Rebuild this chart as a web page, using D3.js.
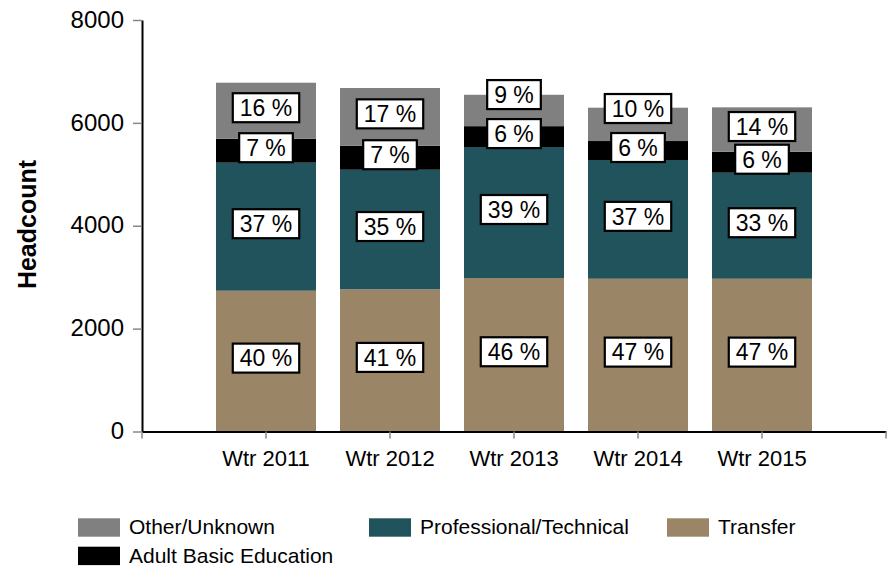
<!DOCTYPE html>
<html>
<head>
<meta charset="utf-8">
<script src="https://cdn.jsdelivr.net/npm/d3@7"></script>
<style>
  html, body { margin: 0; padding: 0; background: #fff; }
  svg { display: block; font-family: Arial, "Liberation Sans", sans-serif; }
</style>
</head>
<body>
<svg id="chart" width="892" height="570"></svg>
<script>
// ---- Data ----
const categories = ["Wtr 2011", "Wtr 2012", "Wtr 2013", "Wtr 2014", "Wtr 2015"];
const transfer     = [2737, 2764, 2984, 2970, 2970];
const professional = [2489, 2325, 2547, 2308, 2061];
const adultBasic   = [466, 467, 405, 369, 408];
const otherUnknown = [1089, 1122, 610, 648, 863];
const seriesNames  = ["Transfer", "Professional/Technical", "Adult Basic Education", "Other/Unknown"];
const seriesColors = ["#9b8567", "#21535c", "#000000", "#808080"];
const yTicks = [0, 2000, 4000, 6000, 8000];
const yTitle = "Headcount";

const seriesValues = [transfer, professional, adultBasic, otherUnknown];
const rows = categories.map((c, i) => {
  const r = { cat: c };
  seriesNames.forEach((s, k) => r[s] = seriesValues[k][i]);
  return r;
});
const stack = d3.stack().keys(seriesNames)(rows);

const svg = d3.select("#chart");
const x = d3.scaleBand().domain(categories).range([142, 886])
  .paddingInner(24 / 124).paddingOuter((1 + 24 / 124) / 2);
const y = d3.scaleLinear().domain([0, 8000]).range([431.5, 20]);

// ---- Bars ----
const layers = svg.append("g").selectAll("g").data(stack).join("g")
  .attr("fill", (d, i) => seriesColors[i]);
layers.selectAll("rect").data(d => d).join("rect")
  .attr("x", d => x(d.data.cat))
  .attr("width", x.bandwidth())
  .attr("y", d => y(d[1]))
  .attr("height", d => y(d[0]) - y(d[1]));

// ---- Axes ----
const yAxis = svg.append("g").attr("transform", "translate(142,0)")
  .call(d3.axisLeft(y).tickValues(yTicks).tickSize(9).tickSizeOuter(0).tickPadding(9).tickFormat(d3.format("d")));
yAxis.select(".domain").attr("stroke", "#000").attr("stroke-width", 2);
yAxis.selectAll(".tick line").attr("stroke", "#888").attr("stroke-width", 1.5);
yAxis.selectAll(".tick text").attr("font-size", 24).attr("fill", "#000")
  .attr("font-family", "Arial, 'Liberation Sans', sans-serif").attr("dy", "0.3em");

const xAxis = svg.append("g").attr("transform", "translate(0,431.5)")
  .call(d3.axisBottom(x).tickSize(7).tickSizeOuter(0).tickPadding(0));
xAxis.select(".domain").attr("stroke", "#000").attr("stroke-width", 2.2);
xAxis.selectAll(".tick line").attr("stroke", "#888").attr("stroke-width", 1.5);
xAxis.selectAll(".tick text").attr("font-size", 22).attr("fill", "#000")
  .attr("font-family", "Arial, 'Liberation Sans', sans-serif").attr("y", 34.5).attr("dy", 0);
// end ticks of the x axis
xAxis.selectAll(".endtick").data(x.range()).join("line").attr("class", "endtick")
  .attr("x1", d => d).attr("x2", d => d).attr("y1", 0).attr("y2", 7)
  .attr("stroke", "#888").attr("stroke-width", 1.5);

// ---- Y title ----
svg.append("text")
  .attr("transform", "translate(36,224.5) rotate(-90)")
  .attr("text-anchor", "middle")
  .attr("font-size", 25).attr("font-weight", "bold")
  .text(yTitle);

// ---- Percentage labels ----
const boxH = 31, gap = 8, fontPct = 23;
const labelG = svg.append("g");
categories.forEach((c, i) => {
  const total = seriesValues.reduce((s, arr) => s + arr[i], 0);
  let prevTop = Infinity;
  stack.forEach((layer, k) => {
    const d = layer[i];
    const pct = Math.round(seriesValues[k][i] / total * 100);
    let cy = (y(d[0]) + y(d[1])) / 2 - 3;
    if (cy + boxH / 2 > prevTop) cy = prevTop - gap - boxH / 2;
    prevTop = cy - boxH / 2;
    const cx = x(c) + x.bandwidth() / 2;
    const g = labelG.append("g");
    const t = g.append("text").attr("x", cx).attr("y", cy).attr("dy", "0.36em")
      .attr("text-anchor", "middle").attr("font-size", fontPct).attr("fill", "#000")
      .text(pct + " %");
    const w = t.node().getComputedTextLength() + 14;
    g.insert("rect", "text").attr("x", cx - w / 2).attr("y", cy - boxH / 2 + 1)
      .attr("width", w).attr("height", boxH - 2)
      .attr("fill", "#fff").attr("stroke", "#000").attr("stroke-width", 2.2);
  });
});

// ---- Legend ----
const legendItems = [
  { name: "Other/Unknown", color: seriesColors[3], x: 78, y: 518.3 },
  { name: "Professional/Technical", color: seriesColors[1], x: 369, y: 518.3 },
  { name: "Transfer", color: seriesColors[0], x: 667, y: 518.3 },
  { name: "Adult Basic Education", color: seriesColors[2], x: 78, y: 546.7 }
];
const leg = svg.append("g").selectAll("g").data(legendItems).join("g");
leg.append("rect").attr("x", d => d.x).attr("y", d => d.y).attr("width", 42).attr("height", 18.4)
  .attr("fill", d => d.color);
leg.append("text").attr("x", d => d.x + 51).attr("y", d => d.y + 16)
  .attr("font-size", 21).attr("fill", "#000").text(d => d.name);
</script>
</body>
</html>
